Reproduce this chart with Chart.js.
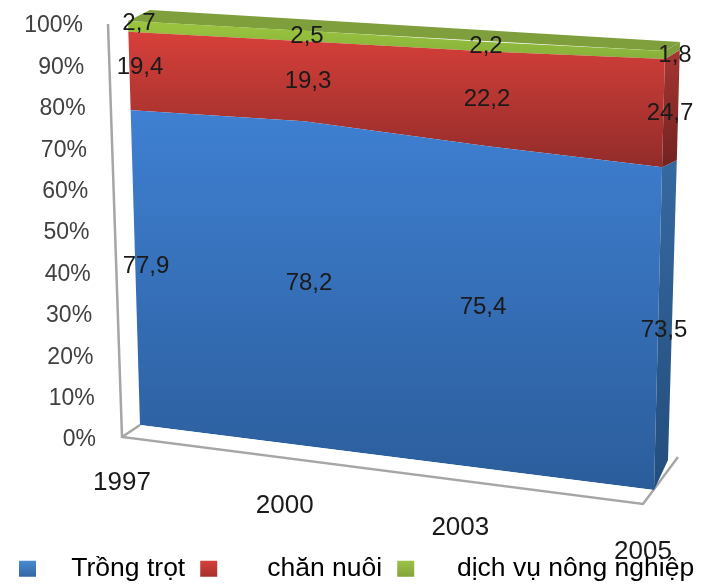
<!DOCTYPE html>
<html>
<head>
<meta charset="utf-8">
<style>
  html, body { margin: 0; padding: 0; background: #fff; }
  canvas { display: block; }
</style>
<script src="https://cdn.jsdelivr.net/npm/chart.js@4"></script>
</head>
<body>
<canvas id="chart" width="706" height="585"></canvas>
<script>
// Chart data
const years = ['1997', '2000', '2003', '2005'];
const baseLine = [0, 0, 0, 0];
const trongTrot = [77.9, 78.2, 75.4, 73.5];
const chanNuoi = [19.4, 19.3, 22.2, 24.7];
const dichVu = [2.7, 2.5, 2.2, 1.8];
const seriesNames = ['Trồng trọt', 'chăn nuôi', 'dịch vụ nông nghiệp'];
const legendGaps = [3, 5, 4];
const yStep = 10;

const FONT = '"Liberation Sans", Arial, sans-serif';

// Front face of the fake 3D box, in canvas pixels
const face = { tl: [128, 21], tr: [665, 51], bl: [140, 425], br: [654, 490] };
const backTL = [150, 10];
const backTR = [680, 42];
const backBR = [668, 460];
const floorFrontL = [122, 437];
const floorFrontR = [643, 504];
const wallTop = [108, 24];

const lerp = (a, b, t) => a + (b - a) * t;

// y of the top / bottom edge of the face at a given x
const edgeY = (p, q, x) => p[1] + ((q[1] - p[1]) * (x - p[0])) / (q[0] - p[0]);

// Project a value fraction (0..1) at canvas x onto the sloped face
const faceY = (v, x) => lerp(edgeY(face.bl, face.br, x), edgeY(face.tl, face.tr, x), v);

const ctx = document.getElementById('chart').getContext('2d');

const vGradient = (y0, y1, c0, c1) => {
  const g = ctx.createLinearGradient(0, y0, 0, y1);
  g.addColorStop(0, c0);
  g.addColorStop(1, c1);
  return g;
};

const seriesFills = [
  vGradient(110, 490, '#3f80d2', '#2b5d9b'),
  vGradient(30, 175, '#d8403a', '#8e2b29'),
  vGradient(20, 60, '#9cc63f', '#86b03a'),
];
const legendFills = [
  vGradient(561, 579, '#4a8ad2', '#2f639f'),
  vGradient(561, 579, '#d4413b', '#a02c2a'),
  vGradient(561, 579, '#9cc247', '#7f9f38'),
];

// Label nudges per series and category, to sit where the reference has them
const labelDx = [
  [26, 5, -5, -8],
  [20, 4, -1, -2],
  [19, 3, -2, 3],
];
const labelDy = [
  [0, 0, 0, 0],
  [-3, 0, 0, 0],
  [-3, 0, 0, 0],
];

const poly = (c, pts, fill) => {
  c.beginPath();
  pts.forEach((p, i) => (i ? c.lineTo(p[0], p[1]) : c.moveTo(p[0], p[1])));
  c.closePath();
  c.fillStyle = fill;
  c.fill();
};

const perspective = {
  id: 'perspective',

  // Move the points the scales gave us onto the sloped face
  afterDatasetsUpdate(chart) {
    const xs = chart.scales.x;
    const ys = chart.scales.y;
    chart.data.datasets.forEach((_, d) => {
      chart.getDatasetMeta(d).data.forEach((pt) => {
        const x = lerp(120, 672, (pt.x - xs.left) / xs.width);
        const v = (ys.bottom - pt.y) / ys.height;
        pt.x = x;
        pt.y = faceY(v, x);
      });
    });
  },

  // Floor, wall line, top and side faces go behind the front face
  beforeDatasetsDraw(chart) {
    const c = chart.ctx;
    const ys = chart.scales.y;

    c.save();
    c.strokeStyle = '#a6a6a6';
    c.lineWidth = 2.5;
    c.beginPath();
    c.moveTo(wallTop[0], wallTop[1]);
    c.lineTo(floorFrontL[0], floorFrontL[1]);
    c.lineTo(floorFrontR[0], floorFrontR[1]);
    c.lineTo(backBR[0] + 10, backBR[1] - 3);
    c.stroke();
    c.beginPath();
    c.moveTo(floorFrontL[0], floorFrontL[1]);
    c.lineTo(face.bl[0], face.bl[1]);
    c.stroke();

    // Top of the green band
    poly(c, [face.tl, backTL, backTR, face.tr], '#7f9f3c');

    // Right hand side of each band, cut at the last category
    const last = years.length - 1;
    const sideFills = [
      vGradient(160, 490, '#36699f', '#234d7c'),
      vGradient(50, 170, '#a83532', '#6f2321'),
      '#7f9f3c',
    ];
    const edgePoint = (v) => [lerp(face.br[0], face.tr[0], v), lerp(face.br[1], face.tr[1], v)];
    const backPoint = (v) => [lerp(backBR[0], backTR[0], v), lerp(backBR[1], backTR[1], Math.pow(v, 1.08))];
    let from = 0;
    [trongTrot, chanNuoi, dichVu].forEach((values, s) => {
      const to = s === 2 ? 1 : from + values[last] / (ys.max - ys.min);
      poly(c, [edgePoint(from), backPoint(from), backPoint(to), edgePoint(to)], sideFills[s]);
      from = to;
    });
    c.restore();

    // The filler works on straight columns, so cut its ends along the slanted edges
    c.save();
    c.beginPath();
    c.moveTo(face.tl[0], 0);
    c.lineTo(face.tr[0], 0);
    c.lineTo(face.tr[0], face.tr[1]);
    c.lineTo(face.br[0], face.br[1]);
    c.lineTo(face.bl[0], face.bl[1]);
    c.lineTo(face.tl[0], face.tl[1]);
    c.closePath();
    c.clip();
  },

  afterDatasetsDraw(chart) {
    const c = chart.ctx;
    c.restore();

    const ys = chart.scales.y;
    const xs = chart.scales.x;
    c.save();

    // Y ticks follow the slanted wall
    c.font = `23px ${FONT}`;
    c.fillStyle = '#404040';
    c.textAlign = 'right';
    c.textBaseline = 'middle';
    ys.ticks.forEach((tick, i) => {
      const v = (ys.bottom - ys.getPixelForTick(i)) / ys.height;
      c.fillText(tick.label, lerp(96, 83, v), lerp(440, 26, v));
    });

    // X ticks step down along the floor
    c.font = `26px ${FONT}`;
    c.fillStyle = '#1a1a1a';
    c.textAlign = 'center';
    const xNudge = [0, -11, -9, 0];
    const yNudge = [0, 0, 0, 2];
    xs.ticks.forEach((tick, i) => {
      const t = (xs.getPixelForTick(i) - xs.left) / xs.width;
      const x = lerp(floorFrontL[0], floorFrontR[0], t) + xNudge[i];
      const y = lerp(floorFrontL[1], floorFrontR[1], t) + 46 + yNudge[i];
      c.fillText(tick.label, x, y);
    });

    // Value labels in the middle of each band
    c.font = `24px ${FONT}`;
    c.fillStyle = '#1a1a1a';
    chart.data.datasets.forEach((ds, d) => {
      if (d === 0) return;
      const pts = chart.getDatasetMeta(d).data;
      const below = chart.getDatasetMeta(d - 1).data;
      pts.forEach((pt, i) => {
        const text = String(ds.data[i]).replace('.', ',');
        const x = pt.x + labelDx[d - 1][i];
        const y = (pt.y + below[i].y) / 2 + labelDy[d - 1][i];
        c.fillText(text, x, y);
      });
    });
    c.restore();
  },
};

const makeSeries = (label, data, s) => ({
  label,
  data,
  fill: '-1',
  backgroundColor: seriesFills[s],
  borderWidth: 0,
  pointRadius: 0,
  tension: 0,
});

new Chart(ctx, {
  type: 'line',
  data: {
    labels: years,
    datasets: [
      { label: 'base', data: baseLine, fill: false, borderWidth: 0, pointRadius: 0 },
      makeSeries(seriesNames[0], trongTrot, 0),
      makeSeries(seriesNames[1], chanNuoi, 1),
      makeSeries(seriesNames[2], dichVu, 2),
    ],
  },
  options: {
    responsive: false,
    animation: false,
    layout: { padding: { left: 4, right: -30, top: 0, bottom: -7 } },
    plugins: {
      tooltip: { enabled: false },
      legend: {
        position: 'bottom',
        align: 'start',
        labels: {
          boxWidth: 17,
          boxHeight: 16,
          padding: 15,
          color: '#111',
          font: { family: FONT, size: 26.5 },
          generateLabels: () =>
            seriesNames.map((name, i) => ({
              text: ' '.repeat(legendGaps[i]) + name,
              fillStyle: legendFills[i],
              strokeStyle: 'rgba(0,0,0,0)',
              lineWidth: 0,
              datasetIndex: i + 1,
            })),
        },
      },
    },
    scales: {
      x: { display: false, offset: false },
      y: {
        display: false,
        stacked: true,
        min: 0,
        max: 100,
        ticks: { stepSize: yStep, callback: (value) => `${value}%` },
      },
    },
  },
  plugins: [perspective],
});
</script>
</body>
</html>
